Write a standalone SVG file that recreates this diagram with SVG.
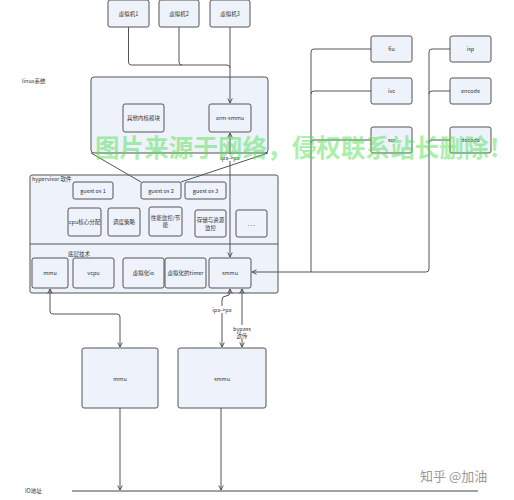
<svg xmlns="http://www.w3.org/2000/svg" width="514" height="500" viewBox="0 0 514 500">
<style>
.bx{fill:#eef2fb;stroke:#555;stroke-width:1}
.big{fill:#eef2fb;stroke:#555;stroke-width:1}
.t{font-family:"Noto Sans CJK SC","Noto Sans",sans-serif;font-size:5.5px;fill:#333;text-anchor:middle;dominant-baseline:central}
.l{font-family:"Noto Sans CJK SC","Noto Sans",sans-serif;font-size:5.5px;fill:#333}
.c{fill:none;stroke:#555;stroke-width:1}
</style>
<defs>
<marker id="ah" viewBox="0 0 8 8" refX="7" refY="4" markerWidth="6" markerHeight="6" orient="auto-start-reverse" markerUnits="userSpaceOnUse">
<path d="M1,1 L7,4 L1,7" fill="none" stroke="#444" stroke-width="1.2"/>
</marker>
</defs>
<rect width="514" height="500" fill="#fff"/>

<g id="linux-group">
<rect class="big" x="91" y="77" width="177" height="76" rx="3"/>
<text class="l" x="22" y="83">linux系统</text>
</g>
<g id="hypervisor-group">
<rect class="big" x="30" y="175" width="248" height="118" rx="2"/>
<line class="c" x1="30" y1="244" x2="278" y2="244"/>
<text class="l" x="32" y="181">hypervisor 软件</text>
<text class="l" x="68" y="256">底层技术</text>
</g>

<g id="vm1"><rect class="bx" x="108" y="0" width="41" height="27" rx="2"/><text class="t" x="128.5" y="14">虚拟机1</text></g>
<g id="vm2"><rect class="bx" x="159" y="0" width="40" height="27" rx="2"/><text class="t" x="179" y="14">虚拟机2</text></g>
<g id="vm3"><rect class="bx" x="210" y="0" width="40" height="27" rx="2"/><text class="t" x="230" y="14">虚拟机3</text></g>

<g id="other-kernel"><rect class="bx" x="123" y="104" width="41" height="28" rx="2"/><text class="t" x="143.5" y="118">其他内核模块</text></g>
<g id="arm-smmu"><rect class="bx" x="209" y="104" width="42" height="28" rx="2"/><text class="t" x="230" y="118">arm-smmu</text></g>

<g id="fiu"><rect class="bx" x="371" y="36" width="41" height="26" rx="2"/><text class="t" x="391.5" y="49">fiu</text></g>
<g id="ivc"><rect class="bx" x="371" y="78" width="41" height="26" rx="2"/><text class="t" x="391.5" y="91">ivc</text></g>
<g id="scr"><rect class="bx" x="371" y="127" width="41" height="26" rx="2"/><text class="t" x="391.5" y="140">scr</text></g>
<g id="isp"><rect class="bx" x="450" y="36" width="41" height="26" rx="2"/><text class="t" x="470.5" y="49">isp</text></g>
<g id="encode"><rect class="bx" x="450" y="78" width="41" height="26" rx="2"/><text class="t" x="470.5" y="91">encode</text></g>
<g id="decode"><rect class="bx" x="450" y="127" width="41" height="26" rx="2"/><text class="t" x="470.5" y="140">decode</text></g>

<g id="guest1"><rect class="bx" x="73" y="182" width="40" height="17" rx="2"/><text class="t" x="93" y="190.5">guest os 1</text></g>
<g id="guest2"><rect class="bx" x="141" y="182" width="40" height="17" rx="2"/><text class="t" x="161" y="190.5">guest os 2</text></g>
<g id="guest3"><rect class="bx" x="185" y="182" width="41" height="17" rx="2"/><text class="t" x="205.5" y="190.5">guest os 3</text></g>

<g id="cpu"><rect class="bx" x="68" y="208" width="33" height="28" rx="2"/><text class="t" x="84.5" y="222">cpu核心分配</text></g>
<g id="sched"><rect class="bx" x="108" y="208" width="32" height="28" rx="2"/><text class="t" x="124" y="222">调度策略</text></g>
<g id="perf"><rect class="bx" x="149" y="207" width="33" height="29" rx="2"/><text class="t" x="165.5" y="217.5">性能监控/节</text><text class="t" x="165.5" y="225">能</text></g>
<g id="storage"><rect class="bx" x="195" y="210" width="31" height="27" rx="2"/><text class="t" x="210.5" y="220">存储与资源</text><text class="t" x="210.5" y="227.5">监控</text></g>
<g id="more"><rect class="bx" x="236" y="210" width="31" height="27" rx="2"/><text class="t" x="251.5" y="223.5">. . .</text></g>

<g id="mmu-h"><rect class="bx" x="32" y="258" width="36" height="30" rx="2"/><text class="t" x="50" y="273">mmu</text></g>
<g id="vcpu"><rect class="bx" x="73" y="258" width="41" height="30" rx="2"/><text class="t" x="93.5" y="273">vcpu</text></g>
<g id="vio"><rect class="bx" x="123" y="258" width="41" height="30" rx="2"/><text class="t" x="143.5" y="273">虚拟化io</text></g>
<g id="vtimer"><rect class="bx" x="165" y="258" width="41" height="30" rx="2"/><text class="t" x="185.5" y="273">虚拟化的timer</text></g>
<g id="smmu-h"><rect class="bx" x="209" y="258" width="42" height="30" rx="2"/><text class="t" x="230" y="273">smmu</text></g>

<g id="mmu"><rect class="bx" x="82" y="348" width="76" height="60" rx="2"/><text class="t" x="120" y="379">mmu</text></g>
<g id="smmu"><rect class="bx" x="178" y="348" width="88" height="60" rx="2"/><text class="t" x="222" y="379">smmu</text></g>

<g id="connectors">
<path class="c" d="M128.5,27 V62 Q128.5,65 131.5,65 H227 Q230,65 230,68"/>
<path class="c" d="M179,27 V62 Q179,65 182,65"/>
<path class="c" d="M230,27 V103" marker-end="url(#ah)"/>
<path class="c" d="M91,153 L141,182"/>
<path class="c" d="M268,153 L181,182"/>
<path class="c" d="M230,257 V133" marker-start="url(#ah)" marker-end="url(#ah)"/>
<rect x="219" y="154" width="22" height="7" fill="#fff"/>
<text class="t" x="230" y="157.5">ipa->pa</text>

<path class="c" d="M371,49 H314 Q311,49 311,52 V272 H252" marker-end="url(#ah)"/>
<path class="c" d="M371,91 H314 Q311,91 311,94"/>
<path class="c" d="M371,140 H314 Q311,140 311,143"/>
<path class="c" d="M450,49 H432 Q429,49 429,52 V269 Q429,272 426,272 H311"/>
<path class="c" d="M450,91 H432 Q429,91 429,94"/>
<path class="c" d="M450,140 H432 Q429,140 429,143"/>

<path class="c" d="M50,289 V311 Q50,314 53,314 H117 Q120,314 120,317 V347" marker-start="url(#ah)" marker-end="url(#ah)"/>
<path class="c" d="M230,289 V292 Q230,296 226,296 Q222,296 222,300 V347" marker-start="url(#ah)" marker-end="url(#ah)"/>
<path class="c" d="M242,289 V347" marker-start="url(#ah)" marker-end="url(#ah)"/>
<rect x="211" y="306" width="22" height="7" fill="#fff"/>
<text class="t" x="222" y="309.5">ipa->pa</text>
<rect x="233" y="325" width="18" height="14" fill="#fff"/>
<text class="t" x="242" y="328.5">bypass</text>
<text class="t" x="242" y="335.5">透传</text>

<path class="c" d="M120,408 V490" marker-end="url(#ah)"/>
<path class="c" d="M221,408 V490" marker-end="url(#ah)"/>
<line x1="72" y1="491" x2="478" y2="491" stroke="#444" stroke-width="1"/>
</g>
<text class="l" x="25" y="493">IO地址</text>

<text x="95" y="157" font-family="Noto Sans CJK SC,sans-serif" font-size="24.5" font-weight="bold" fill="#55e055" fill-opacity="0.5" textLength="418" lengthAdjust="spacing">图片来源于网络，侵权联系站长删除！</text>
<text x="420" y="481" font-family="Noto Sans CJK SC,sans-serif" font-size="13" fill="#999">知乎 @加油</text>
</svg>
